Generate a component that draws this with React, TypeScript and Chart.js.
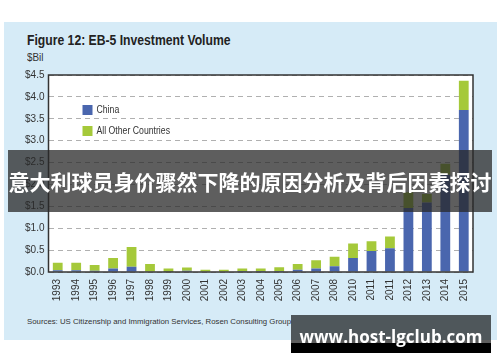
import React, { useEffect, useRef } from "react";
import { Chart, registerables } from "chart.js";

Chart.register(...registerables);

const years = [
  "1993", "1994", "1995", "1996", "1997", "1998", "1999", "2000", "2001", "2002", "2003",
  "2004", "2005", "2006", "2007", "2008", "2010", "2011", "2011", "2012", "2013", "2014", "2015",
];
const china = [
  0.04, 0.04, 0.03, 0.08, 0.12, 0.01, 0.005, 0.03, 0.01, 0.01, 0.02,
  0.02, 0.02, 0.05, 0.08, 0.13, 0.32, 0.48, 0.54, 1.46, 1.59, 2.22, 3.7,
];
const otherCountries = [
  0.17, 0.17, 0.13, 0.24, 0.45, 0.17, 0.075, 0.07, 0.04, 0.04, 0.06,
  0.06, 0.09, 0.13, 0.19, 0.22, 0.33, 0.22, 0.27, 0.36, 0.19, 0.25, 0.67,
];
const seriesNames = ["China", "All Other Countries"];
const seriesColors = ["#4a66ae", "#a5c93a"];

const SANS = "'Liberation Sans', Arial, sans-serif";

export default function App() {
  const ref = useRef<HTMLCanvasElement | null>(null);

  useEffect(() => {
    const canvas = ref.current;
    if (!canvas) return;
    const framePlugin = {
      id: "frame",
      beforeDraw(chart: any) {
        const { ctx, chartArea: a } = chart;
        ctx.save();
        ctx.fillStyle = "#ffffff";
        ctx.fillRect(a.left, a.top, a.right - a.left, a.bottom - a.top);
        ctx.restore();
      },
      afterDraw(chart: any) {
        const { ctx, chartArea: a } = chart;
        ctx.save();
        ctx.strokeStyle = "#333333";
        ctx.lineWidth = 1.5;
        ctx.strokeRect(a.left, a.top, a.right - a.left, a.bottom - a.top);
        // legend inside plot
        const lx = a.left + 34;
        const ys = [a.top + 30, a.top + 51];
        chart.data.datasets.forEach((ds: any, i: number) => {
          ctx.fillStyle = ds.backgroundColor;
          ctx.fillRect(lx, ys[i], 10, 10);
          ctx.save();
          ctx.translate(lx + 14, ys[i] + 5);
          ctx.scale(0.87, 1);
          ctx.fillStyle = "#333333";
          ctx.font = "10px " + SANS;
          ctx.textBaseline = "middle";
          ctx.textAlign = "left";
          ctx.fillText(ds.label, 0, 0);
          ctx.restore();
        });
        ctx.restore();
      },
    };
    const chart = new Chart(canvas, {
      type: "bar",
      data: {
        labels: years,
        datasets: [
          { label: seriesNames[0], data: china, backgroundColor: seriesColors[0] },
          { label: seriesNames[1], data: otherCountries, backgroundColor: seriesColors[1] },
        ],
      },
      options: {
        animation: false,
        responsive: false,
        maintainAspectRatio: false,
        devicePixelRatio: 1,
        layout: { padding: { left: 0, top: 75, right: 27, bottom: 60 } },
        plugins: { legend: { display: false }, tooltip: { enabled: false } },
        datasets: { bar: { barPercentage: 0.53, categoryPercentage: 1 } },
        scales: {
          x: {
            stacked: true,
            grid: { display: false, drawTicks: false },
            border: { display: false },
            ticks: {
              autoSkip: false,
              minRotation: 90,
              maxRotation: 90,
              padding: 7,
              color: "#333333",
              font: { size: 10, family: SANS },
            },
            afterFit(scale: any) {
              scale.height = 30;
            },
          },
          y: {
            stacked: true,
            min: 0,
            max: 4.5,
            grid: { color: "#b0b0b0", drawTicks: false, lineWidth: 1 },
            border: { display: false, dash: [5, 4] },
            ticks: {
              stepSize: 0.5,
              padding: 4,
              color: "#333333",
              font: { size: 10, family: SANS },
              callback: (v: any) => "$" + Number(v).toFixed(1),
            },
            afterFit(scale: any) {
              scale.width = 48.5;
            },
          },
        },
      },
      plugins: [framePlugin],
    });
    return () => chart.destroy();
  }, []);

  return (
    <div style={{ position: "fixed", left: 0, top: 0, width: 500, height: 362, background: "#ffffff", overflow: "hidden" }}>
      <div style={{ position: "absolute", left: 4, top: 22, width: 493, height: 318, background: "#d6ebf7" }} />
      <div style={{ position: "absolute", left: 27, top: 31, fontFamily: SANS, fontWeight: "bold", fontSize: 14, color: "#222", whiteSpace: "nowrap", lineHeight: "18px", transform: "scaleX(0.87)", transformOrigin: "left center" }}>
        Figure 12: EB-5 Investment Volume
      </div>
      <div style={{ position: "absolute", left: 27, top: 50, fontFamily: SANS, fontSize: 11, color: "#333", lineHeight: "14px", transform: "scaleX(0.9)", transformOrigin: "left center" }}>
        $Bil
      </div>
      <div style={{ position: "absolute", left: 27, top: 316, fontFamily: SANS, fontSize: 8, color: "#333", whiteSpace: "nowrap", lineHeight: "11px", transform: "scaleX(0.975)", transformOrigin: "left center" }}>
        Sources: US Citizenship and Immigration Services, Rosen Consulting Group
      </div>
      <canvas ref={ref} width={500} height={362} style={{ position: "absolute", left: 0, top: 0, width: 500, height: 362 }} />
      <div style={{ position: "absolute", left: 8, top: 150, width: 484, height: 62, background: "rgba(40,40,40,0.75)", color: "#fff", fontFamily: "'Noto Sans CJK SC', sans-serif", fontWeight: "bold", fontSize: 21, lineHeight: "62px", textAlign: "center", whiteSpace: "nowrap" }}>
        意大利球员身价骤然下降的原因分析及背后因素探讨
      </div>
      <div style={{ position: "absolute", left: 291, top: 315, width: 200, height: 28, background: "rgba(0,0,0,0.63)" }} />
      <div style={{ position: "absolute", left: 291, top: 343, width: 200, height: 10, background: "#000" }} />
      <div style={{ position: "absolute", left: 291, top: 324, width: 200, height: 26, color: "#fff", fontFamily: "'Open Sans', sans-serif", fontWeight: "bold", fontSize: 17, lineHeight: "26px", textAlign: "center", whiteSpace: "nowrap" }}>
        www.host-lgclub.com
      </div>
    </div>
  );
}
